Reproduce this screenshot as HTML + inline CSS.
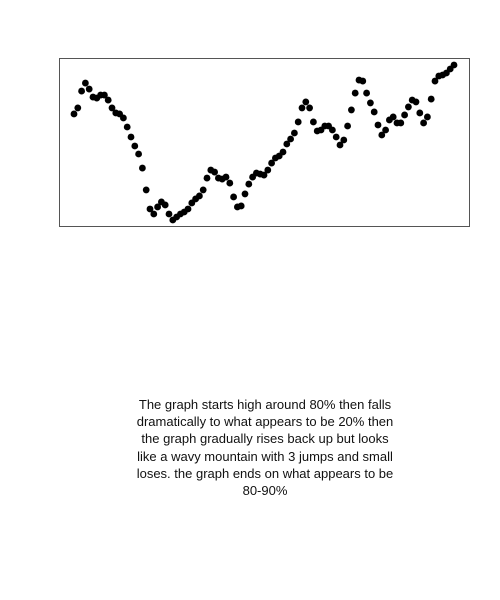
<!DOCTYPE html>
<html>
<head>
<meta charset="utf-8">
<style>
  html,body{margin:0;padding:0;background:#fff;}
  body{width:500px;height:600px;position:relative;overflow:hidden;font-family:"Liberation Sans",sans-serif;}
  #chart{position:absolute;left:0;top:0;}
  #desc{position:absolute;left:65px;width:400px;top:396px;text-align:center;font-size:13px;line-height:17.2px;color:#111;white-space:nowrap;}
</style>
</head>
<body>
<svg id="chart" width="500" height="300" xmlns="http://www.w3.org/2000/svg">
  <rect x="59.5" y="58.5" width="410" height="168" fill="none" stroke="#555" stroke-width="1"/>
  <g id="points"></g>
</svg>
<div id="desc">The graph starts high around 80% then falls<br>dramatically to what appears to be 20% then<br>the graph gradually rises back up but looks<br>like a wavy mountain with 3 jumps and small<br>loses. the graph ends on what appears to be<br>80-90%</div>
<script>
const yValues = [67.1,70.7,80.8,85.6,82.0,77.2,76.6,78.4,78.4,75.4,70.7,67.7,67.1,64.7,59.3,53.3,47.9,43.1,34.7,21.6,10.2,7.2,11.4,14.4,12.6,7.2,3.6,5.4,7.2,8.4,10.2,13.8,16.2,18.0,21.6,28.7,33.5,32.3,28.7,28.1,29.3,25.7,17.4,11.4,12.0,19.2,25.1,29.3,31.7,31.1,
30.5,33.5,37.7,40.7,41.9,44.3,49.1,52.1,55.7,62.3,70.7,74.3,70.7,62.3,56.9,57.5,59.9,59.9,57.5,53.3,48.5,51.5,59.9,69.5,79.6,87.4,86.8,79.6,73.7,68.3,60.5,54.5,57.5,63.5,65.3,61.7,61.7,66.5,71.3,75.4,74.3,67.7,61.7,65.3,76.0,86.8,89.8,90.4,91.6,94.0,96.4];
const xIndex = yValues.map((v,i)=>i);
const xDomain = [0, 100];
const yDomain = [0, 100];

function xScale(v){ return 74 + (v - xDomain[0]) / (xDomain[1] - xDomain[0]) * 380; }
function yScale(v){ return 226 - (v - yDomain[0]) / (yDomain[1] - yDomain[0]) * 167; }

const g = document.getElementById('points');
const NS = 'http://www.w3.org/2000/svg';
for (let i = 0; i < yValues.length; i++) {
  const c = document.createElementNS(NS, 'circle');
  c.setAttribute('cx', xScale(xIndex[i]));
  c.setAttribute('cy', yScale(yValues[i]));
  c.setAttribute('r', 3.4);
  c.setAttribute('fill', '#000');
  
  
  g.appendChild(c);
}
</script>
</body>
</html>
